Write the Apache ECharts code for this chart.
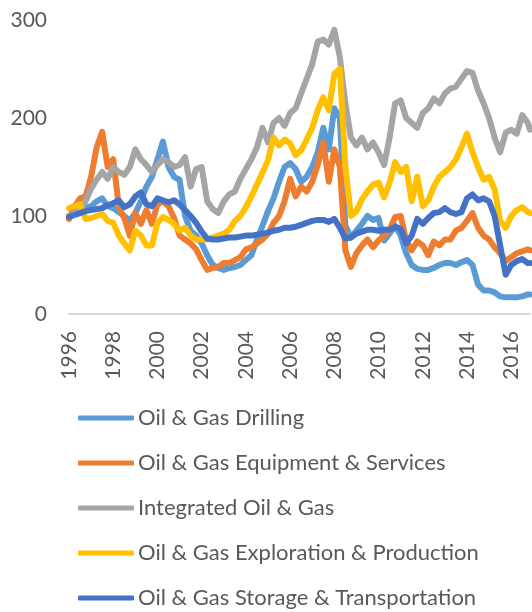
<!DOCTYPE html>
<html>
<head>
<meta charset="utf-8">
<script src="https://cdn.jsdelivr.net/npm/echarts@6/dist/echarts.min.js"></script>
<style>
html,body{margin:0;padding:0;background:#fff;}
#chart{width:532px;height:612px;}
</style>
</head>
<body>
<div id="chart"></div>
<script>
const seriesNames = [
  'Oil & Gas Drilling',
  'Oil & Gas Equipment & Services',
  'Integrated Oil & Gas',
  'Oil & Gas Exploration & Production',
  'Oil & Gas Storage & Transportation'
];
const seriesColors = ['#5B9BD5', '#ED7D31', '#A5A5A5', '#FFC000', '#4472C4'];

const dates = [
  1996.0, 1996.25, 1996.5, 1996.75, 1997.0, 1997.25, 1997.5, 1997.75,
  1998.0, 1998.25, 1998.5, 1998.75, 1999.0, 1999.25, 1999.5, 1999.75,
  2000.0, 2000.25, 2000.5, 2000.75, 2001.0, 2001.25, 2001.5, 2001.75,
  2002.0, 2002.25, 2002.5, 2002.75, 2003.0, 2003.25, 2003.5, 2003.75,
  2004.0, 2004.25, 2004.5, 2004.75, 2005.0, 2005.25, 2005.5, 2005.75,
  2006.0, 2006.25, 2006.5, 2006.75, 2007.0, 2007.25, 2007.5, 2007.75,
  2008.0, 2008.25, 2008.5, 2008.75, 2009.0, 2009.25, 2009.5, 2009.75,
  2010.0, 2010.25, 2010.5, 2010.75, 2011.0, 2011.25, 2011.5, 2011.75,
  2012.0, 2012.25, 2012.5, 2012.75, 2013.0, 2013.25, 2013.5, 2013.75,
  2014.0, 2014.25, 2014.5, 2014.75, 2015.0, 2015.25, 2015.5, 2015.75,
  2016.0, 2016.25, 2016.5, 2016.75, 2016.85
];

const drilling = [
  100, 103, 106, 108, 110, 115, 118, 110, 108, 104, 100, 95, 103, 115, 130, 140,
  158, 176, 150, 140, 137, 100, 85, 80, 72, 60, 50, 47, 45, 47, 48, 50,
  55, 60, 76, 90, 105, 118, 135, 150, 154, 148, 135, 140, 150, 165, 190, 168,
  210, 200, 90, 78, 85, 92, 100, 96, 98, 75, 82, 90, 80, 62, 50, 46,
  45, 45, 47, 50, 52, 52, 50, 53, 55, 50, 30, 24, 24, 22, 18, 17,
  17, 17, 18, 20, 20
];

const equipment = [
  97, 110, 118, 120, 140, 170, 186, 150, 158, 110, 98, 80, 103, 92, 106, 92,
  112, 115, 110, 98, 80, 76, 72, 66, 55, 45, 47, 48, 52, 52, 55, 58,
  66, 68, 72, 76, 82, 93, 100, 115, 138, 120, 130, 125, 135, 152, 175, 135,
  168, 150, 65, 48, 62, 70, 76, 68, 75, 80, 86, 99, 100, 75, 65, 74,
  70, 60, 74, 70, 76, 76, 85, 88, 95, 103, 88, 80, 76, 68, 62, 54,
  58, 62, 64, 66, 65
];

const integrated = [
  100, 102, 108, 115, 128, 137, 145, 138, 150, 145, 142, 150, 168, 158, 152, 145,
  152, 158, 155, 150, 152, 160, 130, 148, 150, 115, 107, 103, 115, 122, 125, 138,
  148, 158, 170, 190, 175, 195, 200, 192, 205, 210, 225, 240, 255, 278, 280, 275,
  290, 262, 215, 180, 172, 180, 168, 175, 165, 152, 180, 215, 218, 200, 195, 190,
  205, 210, 220, 215, 225, 230, 232, 240, 248, 246, 228, 215, 200, 180, 165, 185,
  188, 184, 203, 195, 188
];

const exploration = [
  108, 110, 112, 97, 98, 100, 102, 95, 93, 80, 72, 65, 85, 80, 70, 70,
  93, 99, 96, 92, 85, 88, 80, 76, 76, 76, 78, 80, 82, 86, 95, 100,
  109, 120, 132, 144, 157, 180, 172, 178, 174, 162, 167, 178, 190, 208, 221, 208,
  245, 250, 150, 100, 105, 117, 125, 132, 134, 119, 134, 155, 145, 150, 115, 140,
  110, 116, 130, 140, 145, 150, 158, 170, 184, 165, 150, 137, 140, 127, 95, 88,
  100, 106, 109, 104, 103
];

const storage = [
  99, 101, 103, 105, 106, 107, 108, 111, 113, 116, 109, 112, 120, 124, 112, 110,
  118, 116, 114, 116, 112, 106, 100, 93, 84, 77, 76, 76, 77, 78, 78, 79,
  80, 80, 81, 82, 83, 85, 86, 88, 88, 89, 91, 93, 95, 96, 96, 94,
  97, 88, 77, 78, 82, 84, 86, 86, 85, 86, 86, 89, 87, 72, 80, 97,
  92, 98, 103, 104, 108, 104, 102, 104, 118, 122, 116, 118, 115, 100, 70, 40,
  50, 54, 56, 52, 52
];

const valueSets = [drilling, equipment, integrated, exploration, storage];
const yTicks = { min: 0, max: 300, interval: 100 };
const xTicks = { min: 1996, max: 2016.85, interval: 2 };

const textColor = '#595959';
const fontFamily = 'Lato, "Liberation Sans", sans-serif';

const chart = echarts.init(document.getElementById('chart'), null, { renderer: 'canvas' });

const series = valueSets.map((vals, i) => ({
  name: seriesNames[i],
  type: 'line',
  data: dates.map((d, j) => [d, vals[j]]),
  showSymbol: false,
  symbol: 'none',
  lineStyle: { color: seriesColors[i], width: 6, cap: 'round', join: 'round' },
  itemStyle: { color: seriesColors[i] },
  animation: false
}));

chart.setOption({
  animation: false,
  backgroundColor: '#ffffff',
  grid: { left: 69, right: 2, top: 20, bottom: 298, containLabel: false },
  xAxis: {
    type: 'value',
    min: xTicks.min,
    max: xTicks.max,
    interval: xTicks.interval,
    splitLine: { show: false },
    axisTick: { show: false },
    axisLine: { show: true, lineStyle: { color: '#D9D9D9', width: 2 } },
    axisLabel: {
      rotate: 90,
      color: textColor,
      fontSize: 21,
      fontFamily: fontFamily,
      margin: 17,
      showMaxLabel: false,
      formatter: v => String(v)
    }
  },
  yAxis: {
    type: 'value',
    min: yTicks.min,
    max: yTicks.max,
    interval: yTicks.interval,
    splitLine: { show: false },
    axisTick: { show: false },
    axisLine: { show: false },
    axisLabel: {
      color: textColor,
      fontSize: 21,
      fontFamily: fontFamily,
      margin: 22
    }
  },
  legend: {
    orient: 'vertical',
    left: 78,
    top: 405,
    height: 230,
    padding: 0,
    icon: 'roundRect',
    itemWidth: 56,
    itemHeight: 5,
    itemGap: 19,
    textStyle: { color: textColor, fontSize: 22, fontFamily: fontFamily, lineHeight: 26, padding: [0, 0, 0, -1] },
    data: seriesNames
  },
  series: series
});
</script>
</body>
</html>
